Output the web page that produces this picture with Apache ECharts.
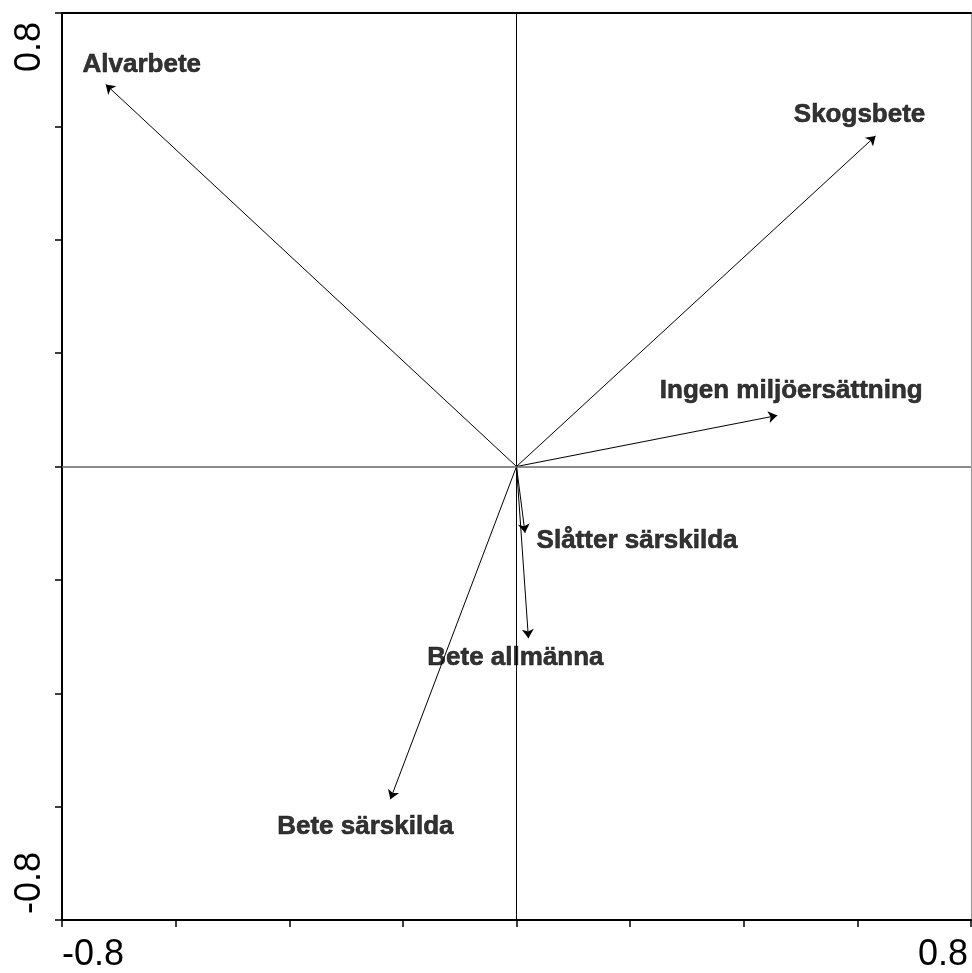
<!DOCTYPE html>
<html>
<head>
<meta charset="utf-8">
<script src="https://cdn.jsdelivr.net/npm/echarts@6/dist/echarts.min.js"></script>
<style>
  html, body { margin: 0; padding: 0; background: #fff; }
  #chart { width: 972px; height: 973px; }
</style>
</head>
<body>
<div id="chart"></div>
<script>
// Environmental variables shown as biplot arrows (ordination axis 1 / axis 2 scores)
const variables = ['Alvarbete', 'Skogsbete', 'Ingen miljöersättning', 'Slåtter särskilda', 'Bete allmänna', 'Bete särskilda'];
const axis1Scores = [-0.723, 0.632, 0.459, 0.015, 0.021, -0.222];
const axis2Scores = [0.674, 0.583, 0.090, -0.117, -0.303, -0.587];

// Axis range and the only tick labels printed (at both ends)
const axisMin = -0.8;
const axisMax = 0.8;
const tickStep = 0.2;
const endTickLabels = ['-0.8', '0.8'];

// Where each arrow's name sits relative to the arrow tip (pixels)
const labelOffsets = [[36, -20], [-16, -21], [14, -25], [112, 8], [-13, 20], [-25, 28]];

const FONT = '"Liberation Sans", Arial, Helvetica, sans-serif';

function isMin(v) { return Math.abs(v - axisMin) < 1e-6; }
function isMax(v) { return Math.abs(v - axisMax) < 1e-6; }

function xEndLabel(v) {
  if (isMin(v)) return '{lo|' + endTickLabels[0] + '}';
  if (isMax(v)) return '{hi|' + endTickLabels[1] + '}';
  return '';
}
function yEndLabel(v) {
  if (isMin(v)) return '{lo|' + endTickLabels[0] + '}';
  if (isMax(v)) return '{hi|' + endTickLabels[1] + '}';
  return '';
}

const tickText = { color: '#000', fontFamily: FONT, fontSize: 36 };

const arrowData = variables.map((name, i) => ({
  name: name,
  coords: [[0, 0], [axis1Scores[i], axis2Scores[i]]]
}));

const tipData = variables.map((name, i) => ({
  name: name,
  value: [axis1Scores[i], axis2Scores[i]],
  label: { offset: labelOffsets[i] }
}));

const chart = echarts.init(document.getElementById('chart'), null, { renderer: 'canvas' });

chart.setOption({
  backgroundColor: '#ffffff',
  animation: false,
  grid: { left: 62, top: 13, right: 1, bottom: 50, containLabel: false },
  xAxis: [
    {
      type: 'value', min: axisMin, max: axisMax, interval: tickStep,
      axisLine: { onZero: false, lineStyle: { color: '#000', width: 2 } },
      axisTick: { show: true, inside: false, length: 7, lineStyle: { color: '#000', width: 1.5 } },
      axisLabel: {
        formatter: xEndLabel, showMinLabel: true, showMaxLabel: true,
        alignMinLabel: 'left', alignMaxLabel: 'right',
        color: '#000', fontFamily: FONT, fontSize: 36, margin: 17,
        rich: {
          lo: Object.assign({ padding: [0, 0, 0, 0] }, tickText),
          hi: Object.assign({ padding: [0, 3, 0, 0] }, tickText)
        }
      },
      splitLine: { show: false }
    },
    {
      type: 'value', position: 'top', min: axisMin, max: axisMax, interval: tickStep,
      axisLine: { onZero: false, lineStyle: { color: '#000', width: 2 } },
      axisTick: { show: false }, axisLabel: { show: false }, splitLine: { show: false }
    }
  ],
  yAxis: [
    {
      type: 'value', min: axisMin, max: axisMax, interval: tickStep,
      axisLine: { onZero: false, lineStyle: { color: '#000', width: 2 } },
      axisTick: { show: true, inside: false, length: 7, lineStyle: { color: '#000', width: 1.5 } },
      axisLabel: {
        formatter: yEndLabel, showMinLabel: true, showMaxLabel: true,
        rotate: 90,
        alignMinLabel: 'left', alignMaxLabel: 'right',
        color: '#000', fontFamily: FONT, fontSize: 36, margin: 14,
        rich: {
          lo: Object.assign({ padding: [0, 0, 0, 6] }, tickText),
          hi: Object.assign({ padding: [0, 9, 0, 0] }, tickText)
        }
      },
      splitLine: { show: false }
    },
    {
      type: 'value', position: 'right', min: axisMin, max: axisMax, interval: tickStep,
      axisLine: { onZero: false, lineStyle: { color: '#999', width: 1 } },
      axisTick: { show: false }, axisLabel: { show: false }, splitLine: { show: false }
    }
  ],
  series: [
    {
      type: 'scatter',
      xAxisIndex: 0, yAxisIndex: 0,
      symbolSize: 0,
      silent: true,
      data: tipData,
      label: {
        show: true,
        position: 'inside',
        formatter: p => p.name,
        color: '#000',
        fontFamily: FONT,
        fontWeight: 'bold',
        fontSize: 26,
        textBorderColor: '#000',
        textBorderWidth: 0.6,
        align: 'center',
        verticalAlign: 'middle'
      },
      markLine: {
        silent: true,
        symbol: ['none', 'none'],
        label: { show: false },
        data: [
          { xAxis: 0, lineStyle: { color: '#000', width: 1, type: 'solid' } },
          { yAxis: 0, lineStyle: { color: '#666', width: 1.5, type: 'solid' } }
        ]
      },
      z: 5
    },
    {
      type: 'lines',
      coordinateSystem: 'cartesian2d',
      xAxisIndex: 0, yAxisIndex: 0,
      symbol: ['none', 'arrow'],
      symbolSize: 9,
      silent: true,
      lineStyle: { color: '#000', width: 1, opacity: 1, curveness: 0 },
      data: arrowData,
      z: 4
    }
  ]
});
</script>
</body>
</html>
